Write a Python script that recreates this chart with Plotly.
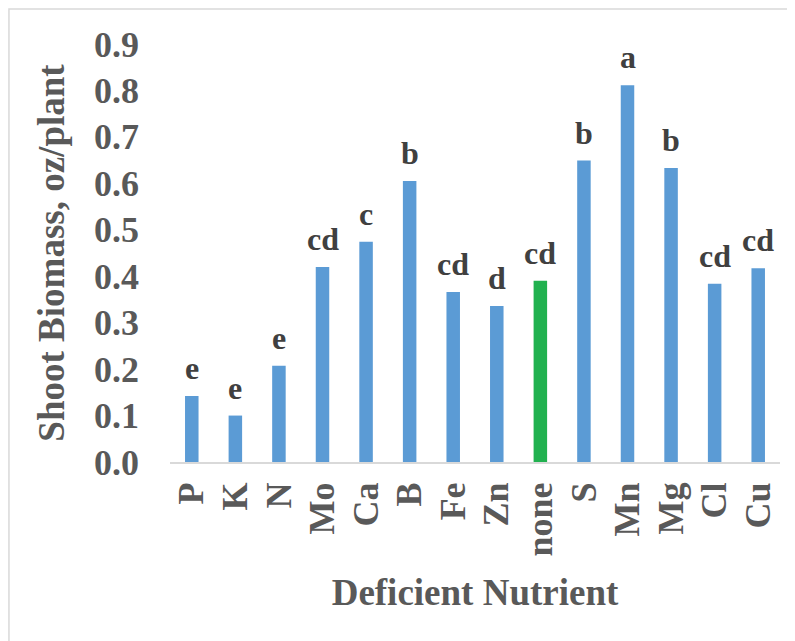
import plotly.graph_objects as go

# deficient nutrient vs shoot biomass
nutrients = ["P", "K", "N", "Mo", "Ca", "B", "Fe", "Zn", "none", "S", "Mn", "Mg", "Cl", "Cu"]
biomass = [0.142, 0.100, 0.207, 0.420, 0.474, 0.605, 0.366, 0.336, 0.390, 0.649, 0.811, 0.633, 0.384, 0.417]
letters = ["e", "e", "e", "cd", "c", "b", "cd", "d", "cd", "b", "a", "b", "cd", "cd"]

BLUE = "#5B9BD5"
GREEN = "#21B14F"
FONT = "Liberation Serif"

colors = [GREEN if n == "none" else BLUE for n in nutrients]

fig = go.Figure()
fig.add_trace(go.Bar(x=nutrients, y=biomass, marker=dict(color=colors, line=dict(width=0)),
                     width=0.31, hoverinfo="x+y"))

for n, v, l in zip(nutrients, biomass, letters):
    fig.add_annotation(x=n, y=v, text="<b>%s</b>" % l, showarrow=False,
                       yanchor="bottom", yshift=8,
                       font=dict(family=FONT, size=32, color="#404040"))

# light grey frame round the chart area
fig.add_shape(type="rect", xref="paper", yref="paper",
              x0=-0.264, x1=1.1, y0=-0.5, y1=1.084,
              line=dict(color="#D9D9D9", width=1.5), layer="below")

fig.update_layout(
    width=795, height=641,
    margin=dict(l=162, r=23, t=36, b=187),
    plot_bgcolor="white", paper_bgcolor="white",
    showlegend=False,
    font=dict(family=FONT, color="#595959"),
)
fig.update_xaxes(
    automargin=False,
    tickangle=-90, tickfont=dict(family=FONT, size=36, color="#595959"),
    ticklabelstandoff=4,
    showline=True, linecolor="#D9D9D9", linewidth=2, ticks="",
    title=dict(text="<b>Deficient Nutrient</b>", standoff=24,
               font=dict(family=FONT, size=37, color="#595959")),
    tickprefix="<b>", ticksuffix="</b>",
)
fig.update_yaxes(
    automargin=False,
    range=[0, 0.9], dtick=0.1, tickformat=".1f", showgrid=False, zeroline=False,
    tickfont=dict(family=FONT, size=36, color="#595959"),
    ticklabelstandoff=30,
    tickprefix="<b>", ticksuffix="</b>",
    title=dict(text="<b>Shoot Biomass, oz/plant</b>", standoff=18,
               font=dict(family=FONT, size=37, color="#595959")),
)

fig.write_html("out.html")
